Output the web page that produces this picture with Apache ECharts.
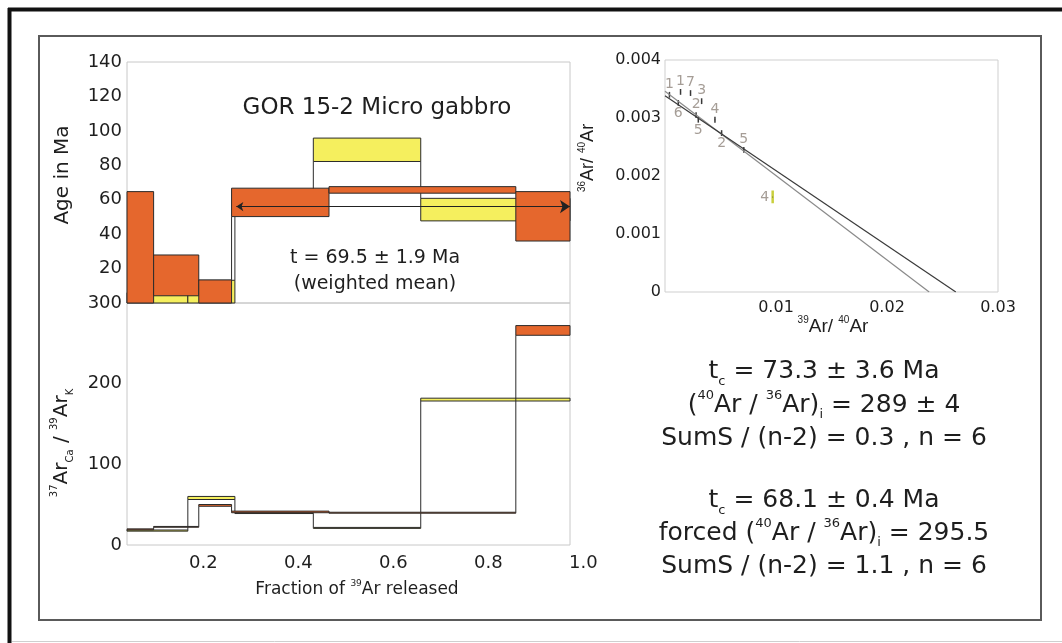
<!DOCTYPE html>
<html><head><meta charset="utf-8">
<script src="https://cdn.jsdelivr.net/npm/echarts@6/dist/echarts.min.js"></script>
<style>html,body{margin:0;padding:0;background:#fff}#c{width:1062px;height:643px}</style>
</head><body><div id="c"></div>
<script>
// ---------------- data ----------------
// cumulative fraction of 39Ar at step boundaries
const orangeSteps = [0.040, 0.096, 0.191, 0.260, 0.465, 0.858, 0.972];
const yellowSteps = [0.040, 0.168, 0.267, 0.432, 0.658, 0.972];
// apparent ages (Ma), error box low / high
const orangeAgeLo = [0, 4.2, 0, 50.2, 63.8, 36.0];
const orangeAgeHi = [64.7, 27.9, 13.4, 66.7, 67.6, 64.7];
const yellowAgeLo = [0, 0, 52, 82.2, 47.7];
const yellowAgeHi = [6, 13.2, 64, 95.8, 60.8];
// 37ArCa/39ArK, box low / high
const orangeCaLo = [18.8, 22.0, 48.0, 40.0, 39.4, 260];
const orangeCaHi = [20.0, 23.0, 50.2, 42.0, 40.6, 272];
const yellowCaLo = [17.2, 56.4, 39.0, 20.6, 178.5];
const yellowCaHi = [18.6, 60.2, 40.2, 21.8, 182];
// plateau arrow
const plateauSpan = [0.270, 0.972];
const plateauAge = [56];
// isochron points
const isoX = [0.0004, 0.0014, 0.0023, 0.0033, 0.0012, 0.0028, 0.0045, 0.0030, 0.0051, 0.0071, 0.0097];
const isoY = [0.00340, 0.00345, 0.00343, 0.00329, 0.00326, 0.00305, 0.00297, 0.00297, 0.00274, 0.00245, 0.00164];
const isoErr = [0.00005, 0.00005, 0.00005, 0.00005, 0.00005, 0.00005, 0.00005, 0.00005, 0.00005, 0.00005, 0.00011];
const isoLabels = ['1', '1', '7', '3', '6', '2', '4', '5', '2', '5', '4'];
// isochron regression lines (endpoints)
const isoFitFree = [[0, 0.00346], [0.0238, 0]];
const isoFitForced = [[0, 0.003384], [0.0262, 0]];
// tick labels
const fracTicks = [0.2, 0.4, 0.6, 0.8, 1.0];
const ageTicks = [20, 40, 60, 80, 100, 120, 140];
const caTicks = [0, 100, 200, 300];
const isoXTicks = [0.01, 0.02, 0.03];
const isoYTicks = [0, 0.001, 0.002, 0.003, 0.004];

// ---------------- helpers ----------------
const FONT = 'DejaVu Sans';
const ARIAL = 'Liberation Sans';
const ORANGE = '#E5672D', YELLOW = '#F5EF5E', EDGE = '#2b2b2b', TXT = '#1e1e1e';
const near = (arr, v) => arr.some(t => Math.abs(t - v) < 1e-9);

function boxes(steps, lo, hi) {
  return lo.map((l, i) => [steps[i], steps[i + 1], l, hi[i]]);
}
function connectors(steps, lo, hi) {
  const out = [];
  for (let i = 0; i < lo.length - 1; i++) {
    const x = steps[i + 1];
    if (hi[i] < lo[i + 1]) out.push([x, hi[i], lo[i + 1]]);
    else if (lo[i] > hi[i + 1]) out.push([x, lo[i], hi[i + 1]]);
  }
  return out;
}
function boxSeries(xi, data, fill) {
  return {
    type: 'custom', xAxisIndex: xi, yAxisIndex: xi, silent: true, data: data,
    renderItem: (p, api) => {
      const a = api.coord([api.value(0), api.value(3)]);
      const b = api.coord([api.value(1), api.value(2)]);
      return { type: 'rect', shape: { x: a[0], y: a[1], width: b[0] - a[0], height: b[1] - a[1] },
        style: { fill: fill, stroke: EDGE, lineWidth: 1 } };
    }
  };
}
function connSeries(xi, data) {
  return {
    type: 'custom', xAxisIndex: xi, yAxisIndex: xi, silent: true, data: data,
    renderItem: (p, api) => {
      const a = api.coord([api.value(0), api.value(1)]);
      const b = api.coord([api.value(0), api.value(2)]);
      return { type: 'line', shape: { x1: a[0], y1: a[1], x2: b[0], y2: b[1] },
        style: { stroke: EDGE, lineWidth: 1 } };
    }
  };
}
function rich(size) {
  return {
    sup: { fontSize: size, lineHeight: size + 2, verticalAlign: 'top', fontFamily: FONT, fill: TXT },
    sub: { fontSize: size, lineHeight: size + 2, verticalAlign: 'bottom', fontFamily: FONT, fill: TXT }
  };
}
function richA(size) {
  return {
    sup: { fontSize: size, lineHeight: size + 2, verticalAlign: 'top', fontFamily: ARIAL, fill: TXT }
  };
}
function txt(x, y, text, size, opts) {
  opts = opts || {};
  return {
    type: 'text', x: x, y: y, rotation: opts.rot || 0, silent: true,
    style: { text: text, fontSize: size, fontFamily: opts.family || FONT, fill: TXT,
      align: 'center', verticalAlign: 'middle', lineHeight: opts.lh || size + 4,
      rich: opts.rich || {} }
  };
}

const XMIN = orangeSteps[0], XMAX = orangeSteps[orangeSteps.length - 1];
const axLab = { fontSize: 18, fontFamily: FONT, color: TXT };

const option = {
  animation: false,
  backgroundColor: '#ffffff',
  grid: [
    { left: 127, top: 62, width: 443, height: 241, show: true, borderColor: '#c8c8c8', borderWidth: 1, backgroundColor: 'transparent' },
    { left: 127, top: 303, width: 443, height: 242, show: true, borderColor: '#c8c8c8', borderWidth: 1, backgroundColor: 'transparent' },
    { left: 108.3, top: 303, width: 475, height: 242, show: false },
    { left: 665, top: 60, width: 333, height: 232, show: true, borderColor: '#cfcfcf', borderWidth: 1, backgroundColor: 'transparent' }
  ],
  xAxis: [
    { gridIndex: 0, type: 'value', min: XMIN, max: XMAX, show: false },
    { gridIndex: 1, type: 'value', min: XMIN, max: XMAX, show: false },
    { gridIndex: 2, type: 'value', min: 0, max: 1, interval: 0.2,
      axisLine: { show: false }, axisTick: { show: false }, splitLine: { show: false },
      axisLabel: Object.assign({ margin: 9, formatter: v => near(fracTicks, v) ? v.toFixed(1) : '' }, axLab) },
    { gridIndex: 3, type: 'value', min: 0, max: 0.03, interval: 0.01,
      axisLine: { show: false }, axisTick: { show: false }, splitLine: { show: false },
      axisLabel: { margin: 8, fontSize: 16, fontFamily: FONT, color: TXT, formatter: v => near(isoXTicks, v) ? v.toFixed(2) : '' } }
  ],
  yAxis: [
    { gridIndex: 0, type: 'value', min: 0, max: 140, interval: 20,
      axisLine: { show: false }, axisTick: { show: false }, splitLine: { show: false },
      axisLabel: Object.assign({ margin: 5, padding: [6, 0, 0, 0], formatter: v => near(ageTicks, v) ? String(v) : '' }, axLab) },
    { gridIndex: 1, type: 'value', min: 0, max: 300, interval: 100,
      axisLine: { show: false }, axisTick: { show: false }, splitLine: { show: false },
      axisLabel: Object.assign({ margin: 5, padding: [6, 0, 0, 0], formatter: v => near(caTicks, v) ? String(v) : '' }, axLab) },
    { gridIndex: 2, type: 'value', min: 0, max: 300, show: false },
    { gridIndex: 3, type: 'value', min: 0, max: 0.004, interval: 0.001,
      axisLine: { show: false }, axisTick: { show: false }, splitLine: { show: false },
      axisLabel: { margin: 4, fontSize: 16, fontFamily: FONT, color: TXT, formatter: v => near(isoYTicks, v) ? (v === 0 ? '0' : v.toFixed(3)) : '' } }
  ],
  series: [
    // age spectrum
    boxSeries(0, boxes(yellowSteps, yellowAgeLo, yellowAgeHi), YELLOW),
    connSeries(0, connectors(yellowSteps, yellowAgeLo, yellowAgeHi)),
    boxSeries(0, boxes(orangeSteps, orangeAgeLo, orangeAgeHi), ORANGE),
    connSeries(0, connectors(orangeSteps, orangeAgeLo, orangeAgeHi)),
    {
      type: 'lines', coordinateSystem: 'cartesian2d', xAxisIndex: 0, yAxisIndex: 0, silent: true,
      symbol: ['arrow', 'arrow'], symbolSize: [7, 10],
      lineStyle: { color: '#222', width: 1, opacity: 1 },
      data: [{ coords: [[plateauSpan[0], plateauAge[0]], [plateauSpan[1], plateauAge[0]]] }]
    },
    // Ca/K spectrum
    boxSeries(1, boxes(yellowSteps, yellowCaLo, yellowCaHi), YELLOW),
    connSeries(1, connectors(yellowSteps, yellowCaLo, yellowCaHi)),
    boxSeries(1, boxes(orangeSteps, orangeCaLo, orangeCaHi), ORANGE),
    connSeries(1, connectors(orangeSteps, orangeCaLo, orangeCaHi)),
    // isochron
    { type: 'line', xAxisIndex: 3, yAxisIndex: 3, data: isoFitFree, showSymbol: false, silent: true,
      lineStyle: { color: '#8a8a8a', width: 1.2 } },
    { type: 'line', xAxisIndex: 3, yAxisIndex: 3, data: isoFitForced, showSymbol: false, silent: true,
      lineStyle: { color: '#3a3a3a', width: 1.2 } },
    {
      type: 'custom', xAxisIndex: 3, yAxisIndex: 3, silent: true,
      data: isoX.map((x, i) => [x, isoY[i], isoErr[i]]),
      renderItem: (p, api) => {
        const x = api.value(0), y = api.value(1), e = api.value(2);
        const a = api.coord([x, y - e]), b = api.coord([x, y + e]);
        const hl = p.dataIndex === 10;
        return { type: 'line', shape: { x1: a[0], y1: a[1], x2: b[0], y2: b[1] },
          style: { stroke: hl ? '#c9cf3c' : '#3a3a3a', lineWidth: hl ? 2.5 : 1.5 } };
      }
    },
    {
      type: 'scatter', xAxisIndex: 3, yAxisIndex: 3, silent: true, symbolSize: 1,
      itemStyle: { color: '#333' },
      data: isoX.map((x, i) => ({
        value: [x, isoY[i]],
        label: { position: (i === 4 || i === 7 || i === 8) ? 'bottom' : (i === 10 ? 'left' : 'top') }
      })),
      label: { show: true, distance: 3, fontSize: 14, fontFamily: FONT, color: '#8e847c',
        formatter: p => isoLabels[p.dataIndex] }
    }
  ],
  graphic: [
    { type: 'line', silent: true, shape: { x1: 8, y1: 9.5, x2: 1062, y2: 9.5 }, style: { stroke: '#111', lineWidth: 4 } },
    { type: 'line', silent: true, shape: { x1: 9.5, y1: 8, x2: 9.5, y2: 643 }, style: { stroke: '#111', lineWidth: 4 } },
    { type: 'line', silent: true, shape: { x1: 12, y1: 641.5, x2: 1062, y2: 641.5 }, style: { stroke: '#cfcfcf', lineWidth: 1 } },
    { type: 'rect', silent: true, shape: { x: 39, y: 36, width: 1002, height: 584 }, style: { fill: 'none', stroke: '#5a5a5a', lineWidth: 2 } },
    txt(377, 108, 'GOR 15-2 Micro gabbro', 23),
    txt(375, 258, 't = 69.5 ± 1.9 Ma', 19),
    txt(375, 284, '(weighted mean)', 19),
    txt(63, 175, 'Age in Ma', 20, { rot: Math.PI / 2 }),
    txt(62, 443, '{sup|37}Ar{sub|Ca} / {sup|39}Ar{sub|K}', 20, { rot: Math.PI / 2, lh: 26, rich: rich(10) }),
    txt(357, 590, 'Fraction of {sup|39}Ar released', 17, { lh: 22, rich: rich(9) }),
    txt(833, 327, '{sup|39}Ar/ {sup|40}Ar', 19, { family: ARIAL, lh: 24, rich: richA(10) }),
    txt(588, 158, '{sup|36}Ar/ {sup|40}Ar', 18, { family: ARIAL, rot: Math.PI / 2, lh: 22, rich: richA(10) }),
    txt(824, 371.7, 't{sub|c} = 73.3 ± 3.6 Ma', 25, { lh: 32, rich: rich(13) }),
    txt(824, 405, '({sup|40}Ar / {sup|36}Ar){sub|i} = 289 ± 4', 25, { lh: 32, rich: rich(13) }),
    txt(824, 438.3, 'SumS / (n-2) = 0.3 , n = 6', 25, { lh: 32 }),
    txt(824, 500.7, 't{sub|c} = 68.1 ± 0.4 Ma', 25, { lh: 32, rich: rich(13) }),
    txt(824, 533.3, 'forced ({sup|40}Ar / {sup|36}Ar){sub|i} = 295.5', 25, { lh: 32, rich: rich(13) }),
    txt(824, 566.7, 'SumS / (n-2) = 1.1 , n = 6', 25, { lh: 32 })
  ]
};

const chart = echarts.init(document.getElementById('c'), null, { renderer: 'canvas' });
chart.setOption(option);
</script>
</body></html>
